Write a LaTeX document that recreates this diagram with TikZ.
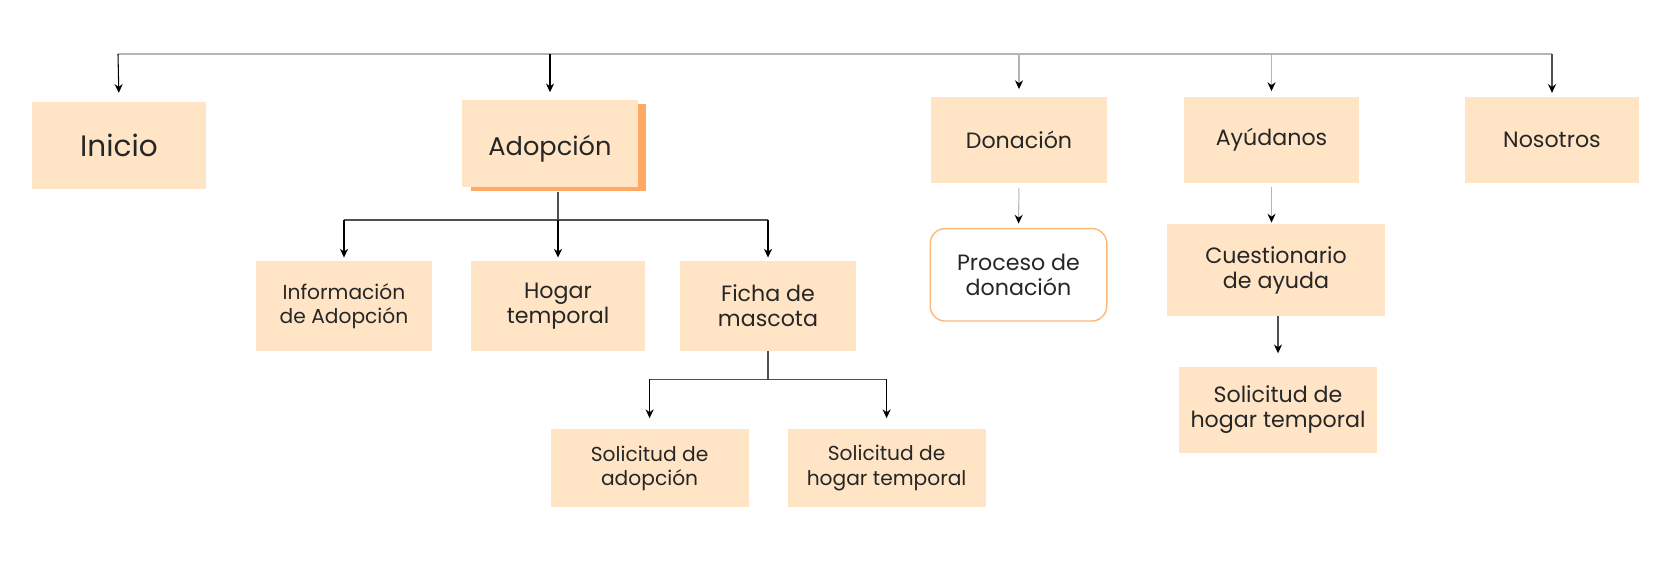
\documentclass[tikz,border=0pt]{standalone}
\usepackage{fontspec}
\setmainfont{Poppins}
\usetikzlibrary{arrows.meta}
\usetikzlibrary{calc}
\usetikzlibrary{shadows}

\definecolor{peach}{HTML}{FFE5C6}
\definecolor{shadeorange}{HTML}{FFA962}
\definecolor{rimorange}{HTML}{FFB877}
\definecolor{barline}{HTML}{B5B5B5}
\definecolor{linkline}{HTML}{505050}
\definecolor{ink}{HTML}{262626}

\tikzset{
  box/.style={fill=peach, inner sep=0pt, align=center, text=ink, font=\fontsize{6.3}{7.1}\selectfont},
  smallbox/.style={box, font=\fontsize{5.75}{7}\selectfont},
  arr/.style={-{Stealth[length=2.5pt, width=2.3pt, color=black]}, line width=0.3pt},
}

\begin{document}
\begin{tikzpicture}[x=0.01cm, y=-0.01cm]
  \useasboundingbox (0,0) rectangle (1667,561);

  \node[box, minimum width=1.74cm, minimum height=0.87cm, font=\fontsize{8.4}{9}\selectfont] (inicio) at (119,145.6) {Inicio};
  \node[box, minimum width=1.755cm, minimum height=0.87cm, font=\fontsize{7.3}{8}\selectfont, text height=6.6pt, text depth=0pt,
        drop shadow={fill=shadeorange, opacity=1, shadow xshift=0.085cm, shadow yshift=-0.043cm}] (adop) at (550,143.5) {Adopción};
  \node[box, minimum width=1.755cm, minimum height=0.86cm] (don) at (1019,139.8) {Donación};
  \node[box, minimum width=1.745cm, minimum height=0.86cm] (ayu) at (1271.5,139.8) {Ayúdanos};
  \node[box, minimum width=1.745cm, minimum height=0.86cm] (nos) at (1552,139.8) {Nosotros};

  \node[smallbox, minimum width=1.755cm, minimum height=0.89cm] (info) at (344,306) {Información\\de Adopción};
  \node[box, minimum width=1.745cm, minimum height=0.89cm] (hogar) at (558,306) {Hogar\\temporal};
  \node[box, minimum width=1.755cm, minimum height=0.89cm] (ficha) at (768,306) {Ficha de\\mascota};
  \node[smallbox, minimum width=1.977cm, minimum height=0.776cm] (soladop) at (649.6,468.3) {Solicitud de\\adopción};
  \node[smallbox, minimum width=1.977cm, minimum height=0.776cm] (solhog) at (886.6,468.3) {Solicitud de\\hogar temporal};

  \node[box, fill=white, draw=rimorange, line width=0.4pt, rounded corners=0.15cm,
        minimum width=1.765cm, minimum height=0.924cm] (proceso) at (1018.5,274.8) {Proceso de\\donación};
  \node[box, minimum width=2.18cm, minimum height=0.914cm] (cuest) at (1276,270) {Cuestionario\\de ayuda};
  \node[box, minimum width=1.977cm, minimum height=0.86cm] (solhogb) at (1278,409.8) {Solicitud de\\hogar temporal};

  \coordinate (barl) at (118,54.2);
  \coordinate (barr) at (1552,54.2);
  \coordinate (adj) at (558,220);
  \coordinate (fj) at (768,379.5);

  \draw[barline, line width=0.6pt] (barl) -- (barr);
  \draw[arr, shorten >=0.085cm] (barl) -- (inicio.north);
  \draw[arr, shorten >=0.07cm] (adop |- barl) -- (adop.north);
  \draw[arr, barline, shorten >=0.07cm] (don |- barl) -- (don.north);
  \draw[arr, barline, shorten >=0.05cm] (ayu |- barl) -- (ayu.north);
  \draw[arr, linkline, shorten >=0.032cm] (barr) -- (nos.north);

  \draw[linkline, line width=0.35pt] ([yshift=-0.043cm]adj |- adop.south) -- (adj);
  \draw[linkline, line width=0.35pt] (info |- adj) -- (ficha |- adj);
  \draw[arr, shorten >=0.032cm] (info |- adj) -- (info.north);
  \draw[arr, shorten >=0.032cm] (adj) -- (hogar.north);
  \draw[arr, shorten >=0.032cm] (ficha |- adj) -- (ficha.north);

  \draw[linkline, line width=0.35pt] (ficha.south) -- (fj);
  \draw[linkline, line width=0.35pt] (soladop |- fj) -- (solhog |- fj);
  \draw[arr, shorten >=0.106cm] (soladop |- fj) -- (soladop.north);
  \draw[arr, shorten >=0.106cm] (solhog |- fj) -- (solhog.north);

  \draw[arr, barline, shorten <=0.04cm, shorten >=0.043cm] (don.south) -- (proceso.north);
  \draw[arr, barline, shorten <=0.03cm, shorten >=0.01cm] (ayu.south) -- (cuest.north -| ayu);
  \draw[arr, linkline, shorten >=0.128cm] (solhogb |- cuest.south) -- (solhogb.north);
\end{tikzpicture}
\end{document}
